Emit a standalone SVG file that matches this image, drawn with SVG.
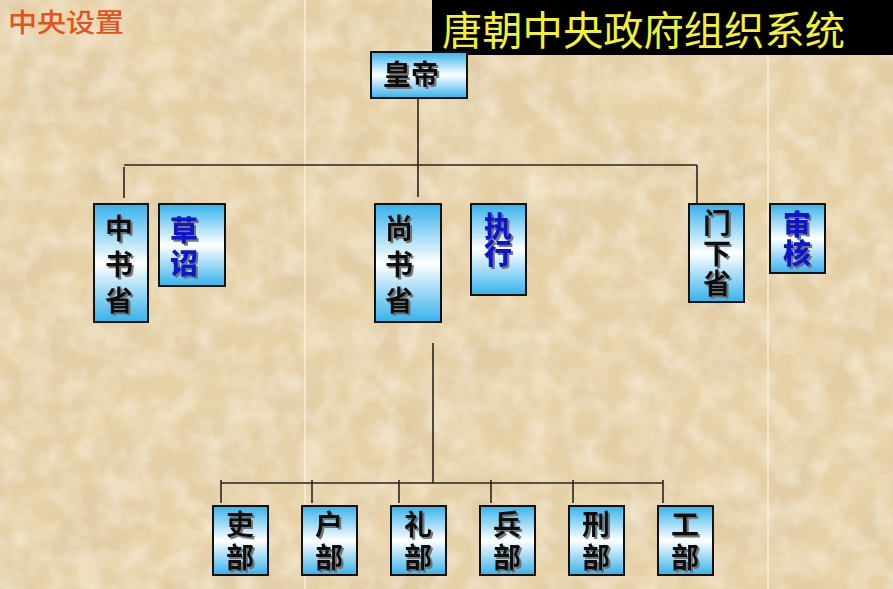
<svg xmlns="http://www.w3.org/2000/svg" width="893" height="589" viewBox="0 0 893 589">
  <defs>
    <linearGradient id="boxGrad" x1="0" y1="0" x2="0" y2="1">
      <stop offset="0" stop-color="#35b2ec"/>
      <stop offset="0.5" stop-color="#ffffff"/>
      <stop offset="1" stop-color="#35b2ec"/>
    </linearGradient>
    <filter id="paper" x="0" y="0" width="100%" height="100%">
      <feTurbulence type="fractalNoise" baseFrequency="0.016" numOctaves="5" seed="11" result="n"/>
      <feColorMatrix in="n" type="matrix" values="0 0 0 0 0.66  0 0 0 0 0.52  0 0 0 0 0.32  0.8 0 0 0 -0.3" result="dark"/>
      <feTurbulence type="fractalNoise" baseFrequency="0.04" numOctaves="3" seed="3" result="n2"/>
      <feColorMatrix in="n2" type="matrix" values="0 0 0 0 1  0 0 0 0 0.97  0 0 0 0 0.9  0.9 0 0 0 -0.33" result="light"/>
      <feMerge><feMergeNode in="dark"/><feMergeNode in="light"/></feMerge>
    </filter>
    <filter id="shadow" x="-20%" y="-20%" width="140%" height="140%">
      <feDropShadow dx="2" dy="2" stdDeviation="0.6" flood-color="#6a6a6a" flood-opacity="0.9"/>
    </filter>
  </defs>
  <style>
    .box { fill: url(#boxGrad); stroke: #111; stroke-width: 2; }
    .lbl { font-family: "Noto Sans CJK SC", "Noto Sans", sans-serif; font-weight: bold; font-size: 28px; fill: #111; text-anchor: middle; filter: url(#shadow); }
    .v { writing-mode: vertical-rl; text-anchor: start; font-family: "Noto Sans CJK SC", "Noto Sans", sans-serif; font-weight: bold; font-size: 28px; fill: #111; filter: url(#shadow); }
    .blue { fill: #0a14c8; font-weight: 900; }
    .conn line { stroke: #2a2320; stroke-width: 1.6; }
  </style>

  <!-- background -->
  <rect x="0" y="0" width="893" height="589" fill="#e7d2a8"/>
  <rect x="0" y="0" width="893" height="589" filter="url(#paper)"/>
  <line x1="305" y1="0" x2="305" y2="589" stroke="#fbf4e2" stroke-width="1.5" opacity="0.8"/>
  <line x1="768" y1="0" x2="768" y2="589" stroke="#fbf4e2" stroke-width="1.5" opacity="0.8"/>

  <!-- headings -->
  <text x="8" y="32" font-family="Noto Sans CJK SC, sans-serif" font-size="26" font-weight="500" fill="#e3531e" textLength="116" lengthAdjust="spacingAndGlyphs">中央设置</text>
  <g id="title">
    <rect x="432" y="0" width="461" height="55" fill="#000"/>
    <text x="442" y="45" font-family="Noto Sans CJK SC, sans-serif" font-size="40" fill="#f2f230" textLength="403" lengthAdjust="spacingAndGlyphs">唐朝中央政府组织系统</text>
  </g>

  <!-- connectors -->
  <g id="connectors" class="conn">
    <line x1="418" y1="98" x2="418" y2="197"/>
    <line x1="124" y1="165" x2="697" y2="165"/>
    <line x1="124" y1="167" x2="124" y2="198"/>
    <line x1="697" y1="165" x2="697" y2="203"/>
    <line x1="433" y1="343" x2="433" y2="483"/>
    <line x1="221" y1="483" x2="663" y2="483"/>
    <line x1="221" y1="480" x2="221" y2="503"/>
    <line x1="312" y1="480" x2="312" y2="503"/>
    <line x1="399" y1="480" x2="399" y2="503"/>
    <line x1="491" y1="480" x2="491" y2="503"/>
    <line x1="573" y1="480" x2="573" y2="503"/>
    <line x1="663" y1="480" x2="663" y2="503"/>
  </g>

  <!-- emperor -->
  <g id="huangdi">
    <rect class="box" x="371" y="52" width="96" height="46"/>
    <text class="lbl" x="411" y="85">皇帝</text>
  </g>

  <!-- three departments -->
  <g id="zhongshusheng">
    <rect class="box" x="94" y="204" width="54" height="118"/>
    <text class="v" x="119" y="214" letter-spacing="8">中书省</text>
  </g>
  <g id="caozhao">
    <rect class="box" x="159" y="204" width="66" height="82"/>
    <text class="v blue" x="184" y="216" letter-spacing="5">草诏</text>
  </g>
  <g id="shangshusheng">
    <rect class="box" x="375" y="204" width="66" height="118"/>
    <text class="v" x="399" y="214" letter-spacing="8">尚书省</text>
  </g>
  <g id="zhixing">
    <rect class="box" x="471" y="204" width="55" height="91"/>
    <text class="v blue" x="498" y="212" letter-spacing="-1">执行</text>
  </g>
  <g id="menxiasheng">
    <rect class="box" x="689" y="204" width="55" height="98"/>
    <text class="v" x="717" y="209" letter-spacing="2">门下省</text>
  </g>
  <g id="shenhe">
    <rect class="box" x="770" y="204" width="55" height="69"/>
    <text class="v blue" x="797" y="210" letter-spacing="1">审核</text>
  </g>

  <!-- six ministries -->
  <g id="libu">
    <rect class="box" x="213" y="506" width="55" height="69"/>
    <text class="v" x="240" y="510" letter-spacing="5">吏部</text>
  </g>
  <g id="hubu">
    <rect class="box" x="302" y="506" width="55" height="69"/>
    <text class="v" x="329" y="510" letter-spacing="5">户部</text>
  </g>
  <g id="libu2">
    <rect class="box" x="391" y="506" width="55" height="69"/>
    <text class="v" x="418" y="510" letter-spacing="5">礼部</text>
  </g>
  <g id="bingbu">
    <rect class="box" x="480" y="506" width="55" height="69"/>
    <text class="v" x="507" y="510" letter-spacing="5">兵部</text>
  </g>
  <g id="xingbu">
    <rect class="box" x="569" y="506" width="55" height="69"/>
    <text class="v" x="596" y="510" letter-spacing="5">刑部</text>
  </g>
  <g id="gongbu">
    <rect class="box" x="658" y="506" width="55" height="69"/>
    <text class="v" x="685" y="510" letter-spacing="5">工部</text>
  </g>
</svg>
